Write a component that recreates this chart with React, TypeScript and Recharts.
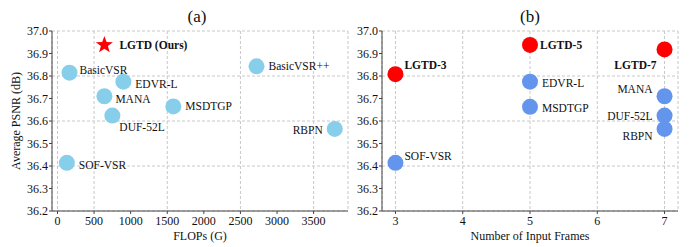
import React from 'react';
import { ScatterChart, Scatter, XAxis, YAxis, CartesianGrid } from 'recharts';

// panel (a): PSNR vs FLOPs
const flopsNames = ['BasicVSR', 'EDVR-L', 'MANA', 'DUF-52L', 'MSDTGP', 'BasicVSR++', 'RBPN', 'SOF-VSR'];
const flopsValues = [164, 900, 641, 750, 1583, 2720, 3789, 128];
const flopsPsnr = [36.815, 36.775, 36.71, 36.624, 36.665, 36.843, 36.565, 36.414];
const oursName = 'LGTD (Ours)';
const oursFlops = 641;
const oursPsnr = 36.938;

// panel (b): PSNR vs number of input frames
const lgtdNames = ['LGTD-3', 'LGTD-5', 'LGTD-7'];
const lgtdFrames = [3, 5, 7];
const lgtdPsnr = [36.808, 36.938, 36.918];
const otherNames = ['EDVR-L', 'MSDTGP', 'RBPN', 'DUF-52L', 'MANA', 'SOF-VSR'];
const otherFrames = [5, 5, 7, 7, 7, 3];
const otherPsnr = [36.775, 36.663, 36.565, 36.624, 36.71, 36.414];

const psnrTicks = [36.2, 36.3, 36.4, 36.5, 36.6, 36.7, 36.8, 36.9, 37.0];
const flopsTicks = [0, 500, 1000, 1500, 2000, 2500, 3000, 3500];
const frameTicks = [3, 4, 5, 6, 7];

type Offset = { dx: number; dy: number; anchor?: 'start' | 'end' };

const leftOffsets: Record<string, Offset> = {
  'LGTD (Ours)': { dx: 15, dy: 0 },
  BasicVSR: { dx: 10, dy: -3 },
  'EDVR-L': { dx: 12, dy: 2 },
  MANA: { dx: 11, dy: 3 },
  'DUF-52L': { dx: 7, dy: 11 },
  MSDTGP: { dx: 12, dy: 0 },
  'BasicVSR++': { dx: 12, dy: 0 },
  RBPN: { dx: -12, dy: 1, anchor: 'end' },
  'SOF-VSR': { dx: 12, dy: 2 },
};

const rightOffsets: Record<string, Offset> = {
  'LGTD-3': { dx: 9, dy: -9 },
  'LGTD-5': { dx: 10, dy: 0 },
  'LGTD-7': { dx: -8, dy: 16, anchor: 'end' },
  'EDVR-L': { dx: 12, dy: 1 },
  MSDTGP: { dx: 12, dy: 1 },
  MANA: { dx: -12, dy: -7, anchor: 'end' },
  'DUF-52L': { dx: -12, dy: 0, anchor: 'end' },
  RBPN: { dx: -12, dy: 7, anchor: 'end' },
  'SOF-VSR': { dx: 9, dy: -7 },
};

const FONT = "'Liberation Serif', 'DejaVu Serif', serif";
const AXIS = '#444';
const GRID = '#c8c8c8';

const toPoints = (names: string[], xs: number[], ys: number[]) =>
  names.map((name, i) => ({ name, x: xs[i], y: ys[i] }));

const flopsData = toPoints(flopsNames, flopsValues, flopsPsnr);
const oursData = [{ name: oursName, x: oursFlops, y: oursPsnr }];
const lgtdData = toPoints(lgtdNames, lgtdFrames, lgtdPsnr);
const otherData = toPoints(otherNames, otherFrames, otherPsnr);

const labelText = (cx: number, cy: number, name: string, offsets: Record<string, Offset>, bold: boolean) => {
  const o = offsets[name] || { dx: 10, dy: 0 };
  return (
    <text
      x={cx + o.dx}
      y={cy + o.dy}
      textAnchor={o.anchor || 'start'}
      dominantBaseline="central"
      fontSize={11.5}
      fontWeight={bold ? 'bold' : 'normal'}
      fill="#111"
    >
      {name}
    </text>
  );
};

const dotShape = (color: string, offsets: Record<string, Offset>, bold = false) => (props: any) => {
  const { cx, cy, payload } = props;
  return (
    <g>
      <circle cx={cx} cy={cy} r={8} fill={color} />
      {labelText(cx, cy, payload.name, offsets, bold)}
    </g>
  );
};

const starShape = (props: any) => {
  const { cx, cy, payload } = props;
  const pts: string[] = [];
  for (let i = 0; i < 10; i++) {
    const r = i % 2 === 0 ? 9 : 3.7;
    const a = -Math.PI / 2 + (i * Math.PI) / 5;
    pts.push(`${cx + r * Math.cos(a)},${cy + r * Math.sin(a)}`);
  }
  return (
    <g>
      <polygon points={pts.join(' ')} fill="#ff0000" />
      {labelText(cx, cy, payload.name, leftOffsets, true)}
    </g>
  );
};

const tickStyle = { fontSize: 12, fill: '#111', fontFamily: FONT };

function Frame({ domain }: { domain: [number, number] }) {
  return null;
}

const centered = (x: number, y: number, size: number, rotate = false): React.CSSProperties => ({
  position: 'absolute',
  left: x,
  top: y,
  transform: `translate(-50%, -50%)${rotate ? ' rotate(-90deg)' : ''}`,
  whiteSpace: 'nowrap',
  fontSize: size,
  lineHeight: 1,
  color: '#111',
});

export default function App() {
  const margin = { top: 31, right: 4, bottom: 0, left: 0 };
  return (
    <div style={{ position: 'absolute', left: 0, top: 0, width: 694, height: 247, fontFamily: FONT, background: '#fff' }}>
      <div style={{ position: 'absolute', left: 0, top: 0 }}>
        <ScatterChart width={352} height={247} margin={margin}>
          <CartesianGrid stroke={GRID} strokeDasharray="3 2" />
          <XAxis
            type="number"
            dataKey="x"
            domain={[-75, 3970]}
            ticks={flopsTicks}
            allowDataOverflow
            height={36}
            tick={tickStyle}
            tickSize={3}
            tickMargin={2}
            stroke={AXIS}
          />
          <XAxis xAxisId="top" type="number" orientation="top" domain={[-75, 3970]} height={0} tick={false} tickLine={false} stroke={AXIS} />
          <YAxis
            type="number"
            dataKey="y"
            domain={[36.2, 37.0]}
            ticks={psnrTicks}
            allowDataOverflow
            width={52}
            tick={tickStyle}
            tickFormatter={(v: number) => v.toFixed(1)}
            tickSize={3}
            tickMargin={1}
            stroke={AXIS}
          />
          <YAxis yAxisId="right" type="number" orientation="right" domain={[36.2, 37.0]} width={0} tick={false} tickLine={false} stroke={AXIS} />
          <Scatter data={flopsData} shape={dotShape('#87ceeb', leftOffsets)} isAnimationActive={false} />
          <Scatter data={oursData} shape={starShape} isAnimationActive={false} />
        </ScatterChart>
      </div>
      <div style={{ position: 'absolute', left: 330, top: 0 }}>
        <ScatterChart width={352} height={247} margin={margin}>
          <CartesianGrid stroke={GRID} strokeDasharray="3 2" />
          <XAxis
            type="number"
            dataKey="x"
            domain={[2.8, 7.2]}
            ticks={frameTicks}
            allowDataOverflow
            height={36}
            tick={tickStyle}
            tickSize={3}
            tickMargin={2}
            stroke={AXIS}
          />
          <XAxis xAxisId="top" type="number" orientation="top" domain={[2.8, 7.2]} height={0} tick={false} tickLine={false} stroke={AXIS} />
          <YAxis
            type="number"
            dataKey="y"
            domain={[36.2, 37.0]}
            ticks={psnrTicks}
            allowDataOverflow
            width={52}
            tick={tickStyle}
            tickFormatter={(v: number) => v.toFixed(1)}
            tickSize={3}
            tickMargin={1}
            stroke={AXIS}
          />
          <YAxis yAxisId="right" type="number" orientation="right" domain={[36.2, 37.0]} width={0} tick={false} tickLine={false} stroke={AXIS} />
          <Scatter data={otherData} shape={dotShape('#6495ed', rightOffsets)} isAnimationActive={false} />
          <Scatter data={lgtdData} shape={dotShape('#ff0000', rightOffsets, true)} isAnimationActive={false} />
        </ScatterChart>
      </div>
      <div style={centered(197, 16, 17)}>(a)</div>
      <div style={centered(530, 16, 17)}>(b)</div>
      <div style={centered(200, 236, 12)}>FLOPs (G)</div>
      <div style={centered(530, 236, 12)}>Number of Input Frames</div>
      <div style={centered(16, 121, 12, true)}>Average PSNR (dB)</div>
    </div>
  );
}
